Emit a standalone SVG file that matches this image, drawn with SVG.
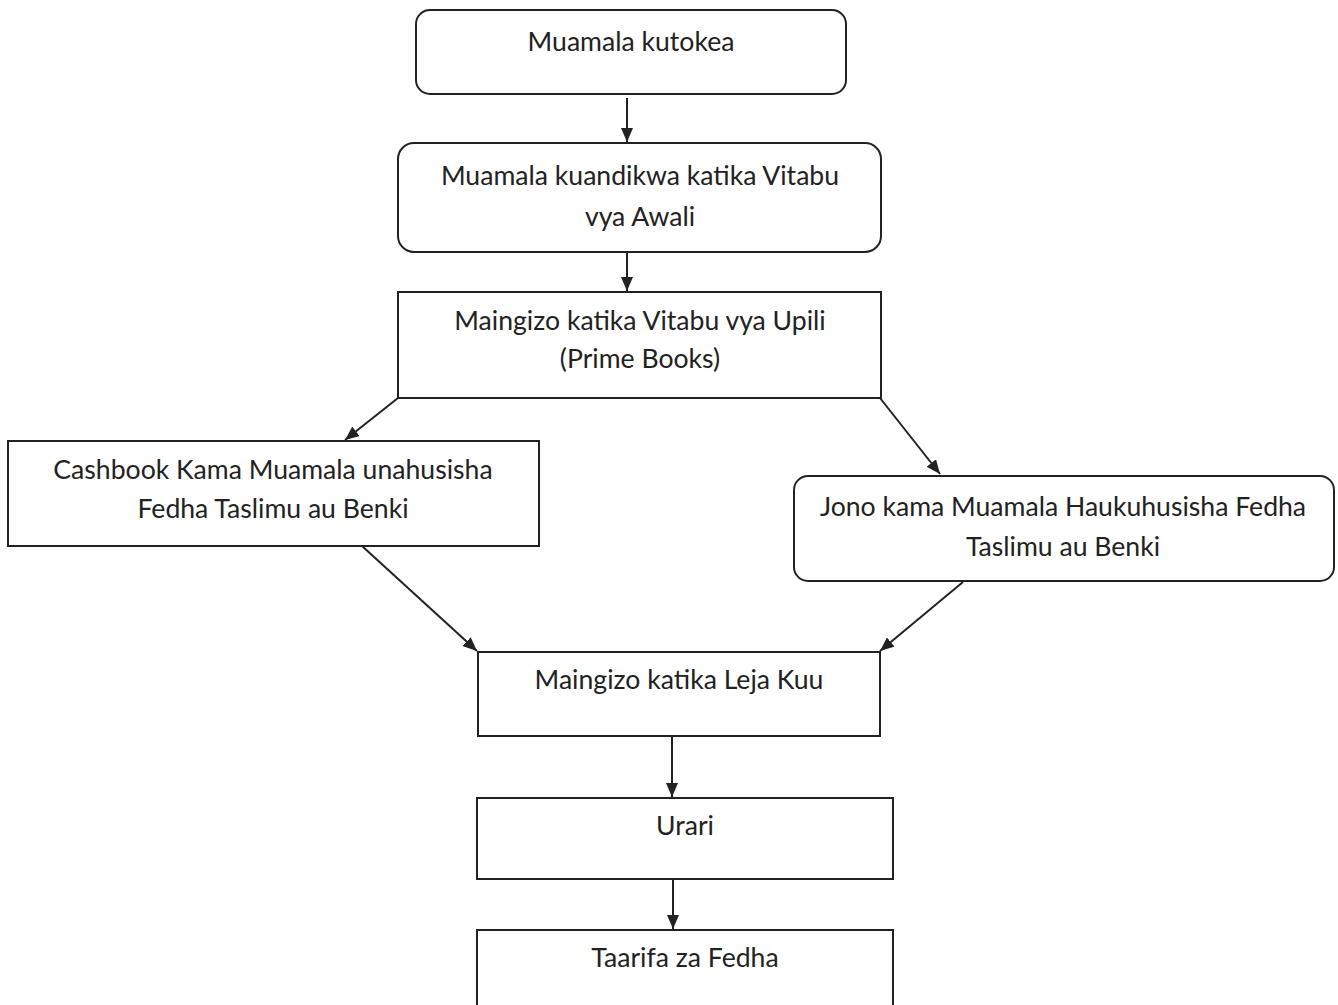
<svg xmlns="http://www.w3.org/2000/svg" width="1338" height="1005" viewBox="0 0 1338 1005">
<style>
.box{fill:#fff;stroke:#222;stroke-width:2}
.t{font-family:Lato,"Open Sans","Liberation Sans",sans-serif;font-size:26.6px;fill:#222;text-anchor:middle}
.c{stroke:#222;stroke-width:2;fill:none;marker-end:url(#ah)}
</style>
<defs>
<marker id="ah" viewBox="0 0 14 12" refX="14" refY="6" markerWidth="14" markerHeight="12" markerUnits="userSpaceOnUse" orient="auto">
<path d="M0,0 L14,6 L0,12 z" fill="#222"/>
</marker>
</defs>
<rect width="1338" height="1005" fill="#fff"/>
<g id="n1"><rect class="box" x="416" y="10" width="430" height="84" rx="14"/><text class="t" x="631" y="51">Muamala kutokea</text></g>
<g id="n2"><rect class="box" x="398" y="143" width="483" height="109" rx="16"/><text class="t" x="640" y="185">Muamala kuandikwa katika Vitabu</text><text class="t" x="640" y="226">vya Awali</text></g>
<g id="n3"><rect class="box" x="398" y="292" width="483" height="106"/><text class="t" x="640" y="330">Maingizo katika Vitabu vya Upili</text><text class="t" x="640" y="368">(Prime Books)</text></g>
<g id="n4"><rect class="box" x="8" y="441" width="531" height="105"/><text class="t" x="273" y="479">Cashbook Kama Muamala unahusisha</text><text class="t" x="273" y="518">Fedha Taslimu au Benki</text></g>
<g id="n5"><rect class="box" x="794" y="476" width="540" height="105" rx="14"/><text class="t" x="1063" y="516">Jono kama Muamala Haukuhusisha Fedha</text><text class="t" x="1063" y="556">Taslimu au Benki</text></g>
<g id="n6"><rect class="box" x="478" y="652" width="402" height="84"/><text class="t" x="679" y="689">Maingizo katika Leja Kuu</text></g>
<g id="n7"><rect class="box" x="477" y="798" width="416" height="81"/><text class="t" x="685" y="835">Urari</text></g>
<g id="n8"><rect class="box" x="477" y="930" width="416" height="90"/><text class="t" x="685" y="967">Taarifa za Fedha</text></g>
<g id="connectors">
<path class="c" d="M627,98 L627,142"/>
<path class="c" d="M627,253 L627,291"/>
<path class="c" d="M398,398 L345,440"/>
<path class="c" d="M880,398 L940,474"/>
<path class="c" d="M362,546 L477,651"/>
<path class="c" d="M963,582 L880,651"/>
<path class="c" d="M672,736 L672,797"/>
<path class="c" d="M673,879 L673,929"/>
</g>
</svg>
